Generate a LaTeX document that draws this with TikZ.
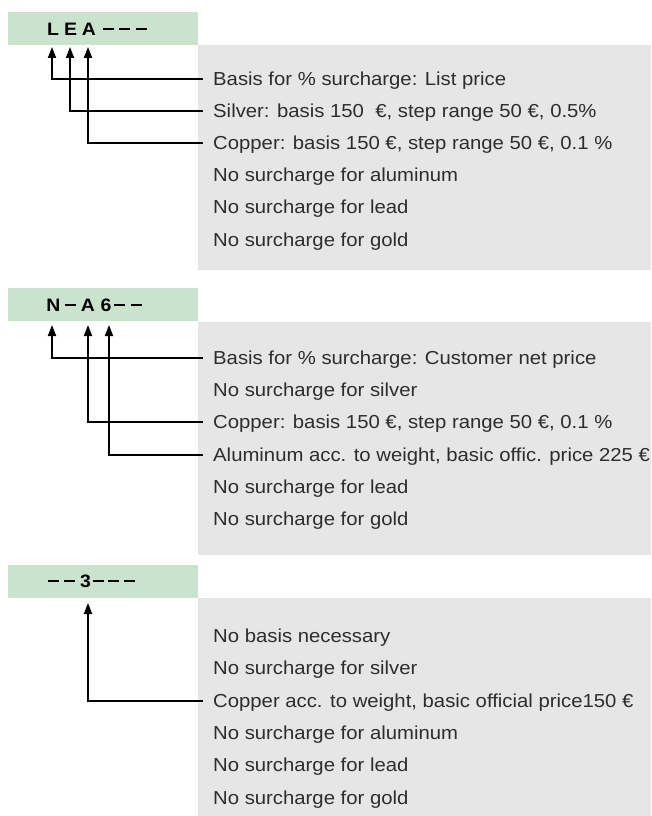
\documentclass[tikz,border=0pt]{standalone}
\usepackage{fontspec}
\setmainfont[FakeStretch=1.08]{Liberation Sans}
\usetikzlibrary{arrows.meta}
\definecolor{grn}{RGB}{201,227,204}
\definecolor{gry}{RGB}{230,230,230}
\definecolor{txt}{RGB}{45,45,45}
\newcommand{\ldash}{\rule{11pt}{2.5pt}}
\begin{document}
\begin{tikzpicture}[x=1pt,y=-1pt,
  greenbox/.style={fill=grn, draw=none, minimum width=190pt, minimum height=33pt, inner sep=0pt, anchor=north west},
  graybox/.style={fill=gry, draw=none, minimum width=453pt, inner sep=0pt, anchor=north west},
  lab/.style={font=\fontsize{18}{20}\selectfont\bfseries, text=black, inner sep=0pt},
  item/.style={font=\fontsize{18.8}{22}\selectfont, text=txt, inner sep=0pt, anchor=west, text height=13.5pt, text depth=0pt},
  arr/.style={line width=1.8pt, -{Triangle[length=11pt,width=8pt]}}]
\useasboundingbox (0,0) rectangle (651,816);
% ---------- section 1 ----------
\node[greenbox] (g1) at (8,12) {};
\node[graybox, minimum height=225pt] (p1) at (198,45) {};
\node[lab] (c1a) at (53,29) {L};
\node[lab] (c1b) at (70.5,29) {E};
\node[lab] (c1c) at (89,29) {A};
\node[lab] (c1d) at (108,29) {\ldash};
\node[lab] (c1e) at (124,29) {\ldash};
\node[lab] (c1f) at (141,29) {\ldash};
\node[item] (t11) at (213,79) {Basis for \% surcharge: List price};
\node[item] (t12) at (213,111) {Silver: basis 150~~€, step range 50 €, 0.5\%};
\node[item] (t13) at (213,143) {Copper: basis 150 €, step range 50 €, 0.1 \%};
\node[item] (t14) at (213,175) {No surcharge for aluminum};
\node[item] (t15) at (213,207) {No surcharge for lead};
\node[item] (t16) at (213,240) {No surcharge for gold};
\coordinate (a11) at (52,47);
\coordinate (a12) at (70,47);
\coordinate (a13) at (88,47);
\draw[arr] ([xshift=-10pt]t11.west) -| (a11);
\draw[arr] ([xshift=-10pt]t12.west) -| (a12);
\draw[arr] ([xshift=-10pt]t13.west) -| (a13);
% ---------- section 2 ----------
\node[greenbox] (g2) at (8,288) {};
\node[graybox, minimum height=233pt] (p2) at (198,322) {};
\node[lab] (c2a) at (53.5,305) {N};
\node[lab] (c2b) at (70.5,305) {\ldash};
\node[lab] (c2c) at (88,305) {A};
\node[lab] (c2d) at (106,305) {6};
\node[lab] (c2e) at (119,305) {\ldash};
\node[lab] (c2f) at (136,305) {\ldash};
\node[item] (t21) at (213,358) {Basis for \% surcharge: Customer net price};
\node[item] (t22) at (213,390) {No surcharge for silver};
\node[item] (t23) at (213,422) {Copper: basis 150 €, step range 50 €, 0.1 \%};
\node[item] (t24) at (213,455) {Aluminum acc. to weight, basic offic. price 225 €};
\node[item] (t25) at (213,487) {No surcharge for lead};
\node[item] (t26) at (213,519) {No surcharge for gold};
\coordinate (a21) at (52,325);
\coordinate (a23) at (88,325);
\coordinate (a24) at (109,325);
\draw[arr] ([xshift=-10pt]t21.west) -| (a21);
\draw[arr] ([xshift=-10pt]t23.west) -| (a23);
\draw[arr] ([xshift=-10pt]t24.west) -| (a24);
% ---------- section 3 ----------
\node[greenbox] (g3) at (8,565) {};
\node[graybox, minimum height=218pt] (p3) at (198,598) {};
\node[lab] (c3a) at (53,581) {\ldash};
\node[lab] (c3b) at (69,581) {\ldash};
\node[lab] (c3c) at (85.5,581) {3};
\node[lab] (c3d) at (98,581) {\ldash};
\node[lab] (c3e) at (113,581) {\ldash};
\node[lab] (c3f) at (129,581) {\ldash};
\node[item] (t31) at (213,636) {No basis necessary};
\node[item] (t32) at (213,668) {No surcharge for silver};
\node[item] (t33) at (213,701) {Copper acc. to weight, basic official price150 €};
\node[item] (t34) at (213,733) {No surcharge for aluminum};
\node[item] (t35) at (213,765) {No surcharge for lead};
\node[item] (t36) at (213,798) {No surcharge for gold};
\coordinate (a33) at (88,603);
\draw[arr] ([xshift=-10pt]t33.west) -| (a33);
\end{tikzpicture}
\end{document}
